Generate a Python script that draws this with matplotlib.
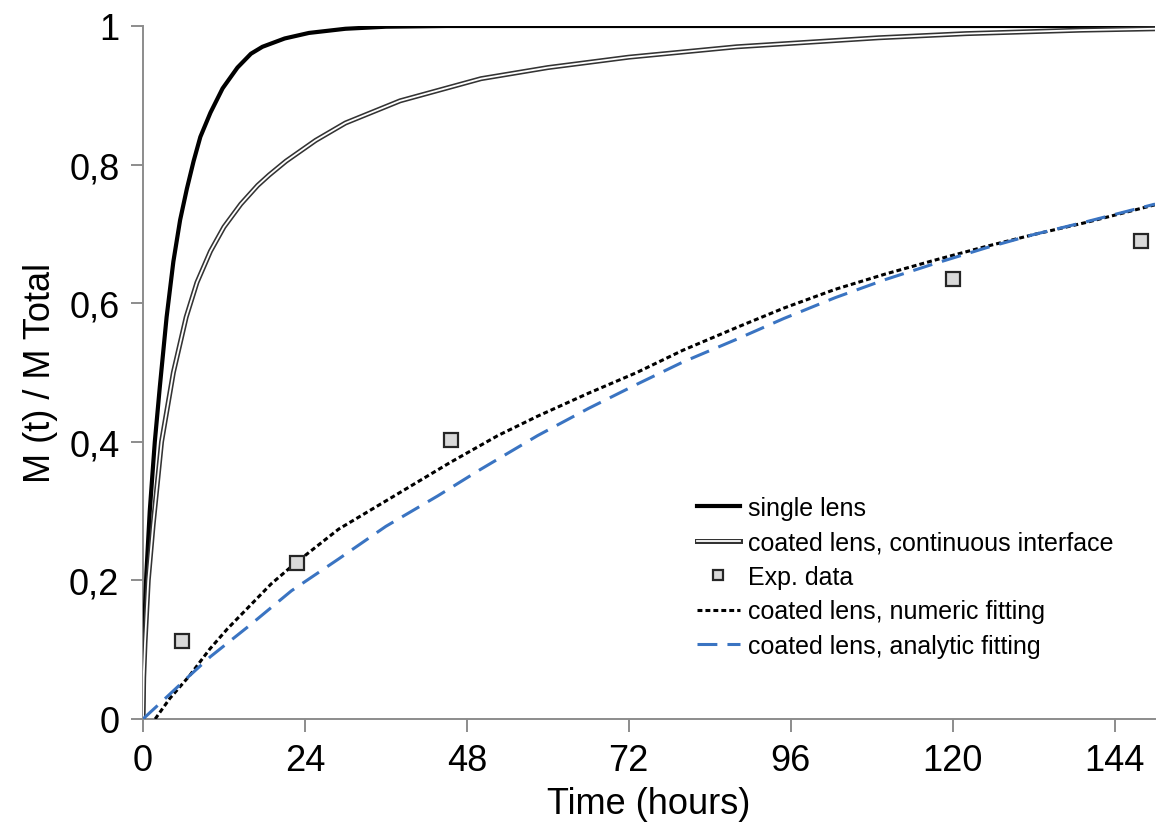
import matplotlib
matplotlib.use("Agg")
import matplotlib.pyplot as plt
import matplotlib.patheffects as pe

plt.rcParams['font.family'] = ['Liberation Sans', 'DejaVu Sans']

# --- data ---
single_t = [0, 0.1, 0.25, 0.5, 1, 1.75, 2.5, 3.5, 4.5, 5.5, 6.5, 7.5, 8.5, 10, 11.8, 14, 16, 17.7, 21, 24.6, 30, 36, 45, 150]
single_v = [0, 0.095, 0.15, 0.21, 0.30, 0.40, 0.48, 0.58, 0.66, 0.72, 0.765, 0.805, 0.84, 0.875, 0.91, 0.94, 0.96, 0.97, 0.982, 0.99, 0.996, 0.999, 1.0, 1.0]

coated_t = [0, 0.1, 0.3, 0.78, 1.5, 2.75, 4.5, 6.4, 8, 10, 12, 14.5, 17, 18.7, 21.2, 25.6, 30, 38.1, 50.1, 60, 72, 88, 109, 122, 139, 150]
coated_v = [0, 0.06, 0.11, 0.2, 0.28, 0.4, 0.5, 0.58, 0.63, 0.675, 0.71, 0.743, 0.77, 0.785, 0.805, 0.835, 0.86, 0.892, 0.924, 0.94, 0.955, 0.97, 0.983, 0.989, 0.994, 0.996]

exp_t = [5.8, 22.9, 45.7, 120, 147.9]
exp_v = [0.112, 0.225, 0.402, 0.635, 0.690]

numeric_t = [1.8, 4, 6.9, 9.9, 12.5, 15.8, 19, 22.6, 29, 36.4, 45.5, 52.6, 58.5, 66, 73.2, 80, 88, 95, 102.6, 110, 117.3, 125, 132, 140, 150]
numeric_v = [0, 0.03, 0.0625, 0.101, 0.13, 0.163, 0.195, 0.225, 0.274, 0.317, 0.370, 0.409, 0.437, 0.47, 0.50, 0.532, 0.565, 0.593, 0.620, 0.642, 0.662, 0.682, 0.699, 0.717, 0.742]

analytic_t = [0, 3, 6.9, 10, 15.8, 22, 29, 36, 43.7, 50, 58.5, 66, 73.2, 80, 88, 95, 102.6, 110, 117.3, 125, 132, 140, 150]
analytic_v = [0, 0.027, 0.0625, 0.09, 0.135, 0.185, 0.231, 0.278, 0.322, 0.36, 0.409, 0.448, 0.483, 0.515, 0.548, 0.578, 0.608, 0.634, 0.657, 0.68, 0.699, 0.718, 0.743]

xticks = [0, 24, 48, 72, 96, 120, 144]
yticks = [0, 0.2, 0.4, 0.6, 0.8, 1.0]
ytick_labels = ['0', '0,2', '0,4', '0,6', '0,8', '1']

labels = ['single lens', 'coated lens, continuous interface', 'Exp. data',
          'coated lens, numeric fitting', 'coated lens, analytic fitting']

# --- figure ---
fig = plt.figure(figsize=(11.63, 8.28), dpi=100)
ax = fig.add_axes([143/1163, 1-720/828, (1155-143)/1163, (720-27)/828])

l1, = ax.plot(single_t, single_v, color='black', lw=3.0, label=labels[0], zorder=3,
              solid_joinstyle='round')
l2, = ax.plot(coated_t, coated_v, color='white', lw=1.3, label=labels[1], zorder=3,
              solid_joinstyle='round',
              path_effects=[pe.Stroke(linewidth=3.6, foreground='#333333'), pe.Normal()])
l4, = ax.plot(numeric_t, numeric_v, color='black', lw=2.2, dashes=(1.6, 1.0),
              label=labels[3], zorder=3)
l5, = ax.plot(analytic_t, analytic_v, color='#3A74C2', lw=2.2, dashes=(6.5, 3.3),
              label=labels[4], zorder=4)
l3, = ax.plot(exp_t, exp_v, linestyle='none', marker='s', markersize=10,
              markerfacecolor='#D9D9D9', markeredgecolor='#262626', markeredgewidth=1.6,
              label=labels[2], zorder=5)

ax.set_xlim(0, 150)
ax.set_ylim(0, 1)
ax.set_xticks(xticks)
ax.set_yticks(yticks)
ax.set_yticklabels(ytick_labels)

for s in ['top', 'right']:
    ax.spines[s].set_visible(False)
for s in ['left', 'bottom']:
    ax.spines[s].set_color('#8C8C8C')
    ax.spines[s].set_linewidth(1.4)
ax.tick_params(axis='both', direction='out', length=9, width=1.4, color='#8C8C8C',
               labelsize=26, labelcolor='black')
ax.tick_params(axis='y', pad=8)
ax.tick_params(axis='x', pad=8)

ax.set_xlabel('Time (hours)', fontsize=26, labelpad=6)
ax.set_ylabel('M (t) / M Total', fontsize=26, labelpad=8)

leg = ax.legend([l1, l2, l3, l4, l5], labels, loc='upper left',
                bbox_to_anchor=(0.547, 0.322), frameon=False, fontsize=18,
                handlelength=1.75, handletextpad=0.3, labelspacing=0.42,
                borderpad=0, borderaxespad=0, markerscale=0.75)

fig.savefig('out.png', dpi=100)
